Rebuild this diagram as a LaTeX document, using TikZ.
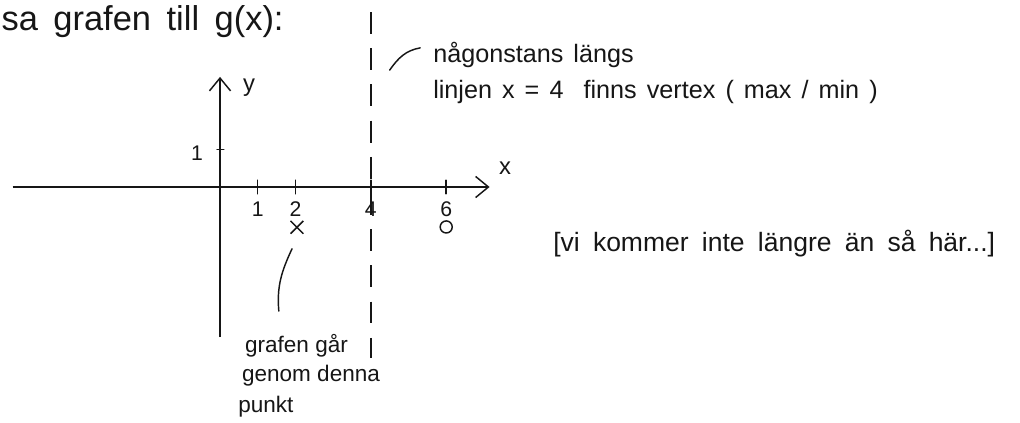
\documentclass[tikz,border=0pt]{standalone}
\usepackage{fontspec}
\setmainfont{Liberation Sans}
\usepackage{xcolor}
\usepackage{tikz}
\usetikzlibrary{arrows.meta,shapes.misc}
\definecolor{ink}{HTML}{161616}
\newcommand{\widesp}[1]{\spaceskip #1em\relax}
\tikzset{
  ax/.style={-{Straight Barb[length=3.4mm,width=5.6mm]},line width=1.1pt,ink},
  pen/.style={line width=1.1pt,ink,line cap=round},
  tk/.style={font=\fontsize{16}{18}\selectfont,inner sep=0pt,text=ink},
  hand/.style={font=\fontsize{17}{20}\selectfont,inner sep=0pt,anchor=base west,text=ink},
  note/.style={hand,font={\fontsize{19}{22}\selectfont\widesp{0.4}}}
}

\begin{document}
\begin{tikzpicture}[x=1cm,y=1cm]
\fill[white] (-5.836,-6.26) rectangle (21.22,4.96);
\useasboundingbox (-5.836,-6.26) rectangle (21.22,4.96);
\node[hand,font={\fontsize{26}{30}\selectfont\widesp{0.45}}] (title) at (-5.8,4.16) {sa grafen till g(x):};
\draw[ax] (-5.5,0)--(7.15,0);
\draw[ax] (0,-3.98)--(0,2.92);
\foreach \i in {1,2,4,6}{
  \draw[pen] (\i,-0.18)--(\i,0.18);
  \node[tk] (x\i) at (\i,-0.58) {\i};}
\draw[pen] (-0.08,1)--(0.1,1);
\node[tk] (y1) at (-0.61,0.9) {1};
\node[tk,font=\fontsize{18}{20}\selectfont] (xl) at (7.56,0.5) {x};
\node[tk,font=\fontsize{18}{20}\selectfont] (yl) at (0.77,2.63) {y};
\draw[pen,line cap=butt,dash pattern=on 5.8mm off 3.8mm] (4,4.64)--(4,-4.54);
\node[draw=ink,cross out,line width=1.1pt,minimum size=3mm,inner sep=0pt] (pt) at (2.04,-1.07) {};
\node[draw=ink,circle,line width=1.1pt,minimum size=3.2mm,inner sep=0pt] (op) at (6,-1.06) {};
\node[note] (n1) at (5.65,3.29) {någonstans längs};
\node[note] (n2) at (5.65,2.36) {linjen x = 4 \ finns vertex ( max / min )};
\coordinate (vl) at (4.5,3.1);
\draw[pen] (vl) to[out=55,in=190] ([shift={(-3.4mm,2mm)}]n1.west);
\node[hand] (g1) at (0.66,-4.38) {grafen går};
\node[hand] (g2) at (0.58,-5.17) {genom denna};
\node[hand] (g3) at (0.48,-5.99) {punkt};
\draw[pen] ([shift={(-1.3mm,-4mm)}]pt.south) to[out=-115,in=95] ([shift={(9mm,6mm)}]g1.north west);
\node[hand,anchor=center,font={\fontsize{20}{24}\selectfont\widesp{0.5}}] (br) at (14.7,-1.49) {[vi kommer inte längre än så här...]};
\end{tikzpicture}
\end{document}
